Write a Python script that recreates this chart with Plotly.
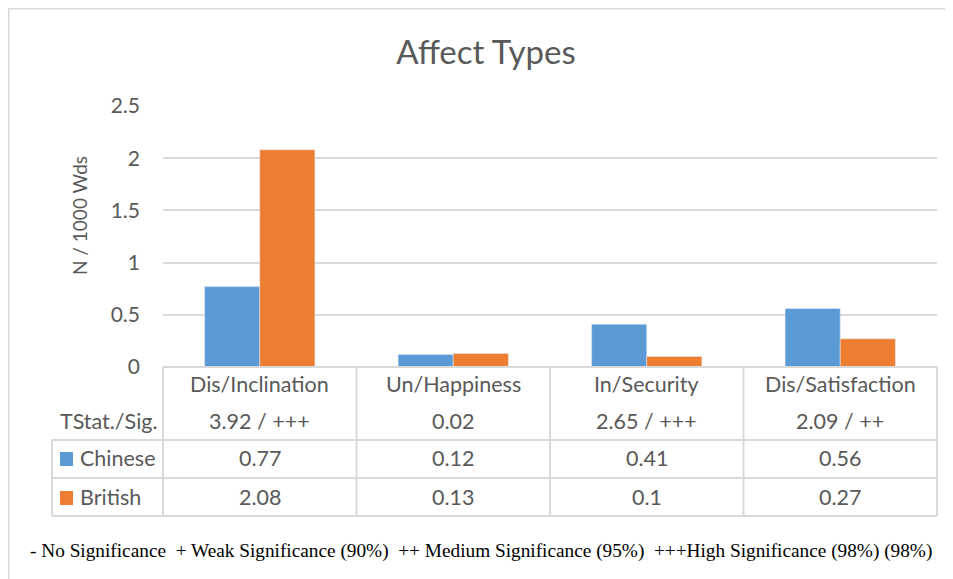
import plotly.graph_objects as go

# data
categories = ["Dis/Inclination", "Un/Happiness", "In/Security", "Dis/Satisfaction"]
tstat_sig = ["3.92 / +++", "0.02", "2.65 / +++", "2.09 / ++"]
chinese = [0.77, 0.12, 0.41, 0.56]
british = [2.08, 0.13, 0.1, 0.27]
series_names = ["Chinese", "British"]
footnote = ("- No Significance \u00a0+ Weak Significance (90%) \u00a0++ Medium Significance (95%) "
            "\u00a0+++High Significance (98%) (98%)")

BLUE = "#5B9BD5"
ORANGE = "#ED7D31"
GRID = "#D9D9D9"
TEXT = "#595959"
FONT = "Lato"

# the page body has an 8px margin, so the figure sits at (8, 8)
OFF = 8
W, H = 953 - OFF, 579 - OFF
# plot area in page pixels
L, R, T, B = 163, 937, 106, 367


def px(x):
    return (x - L) / (R - L)


def py(y):
    return (B - y) / (B - T)


fig = go.Figure()
fig.add_trace(go.Bar(x=categories, y=chinese, name=series_names[0], marker_color=BLUE))
fig.add_trace(go.Bar(x=categories, y=british, name=series_names[1], marker_color=ORANGE))

shapes = []


def line(x0, y0, x1, y1, color=GRID, width=2):
    shapes.append(dict(type="line", xref="paper", yref="paper",
                       x0=px(x0), y0=py(y0), x1=px(x1), y1=py(y1),
                       line=dict(color=color, width=width)))


# outer chart border
shapes.append(dict(type="rect", xref="paper", yref="paper",
                   x0=px(8.8), y0=py(8.8), x1=px(952), y1=py(600),
                   line=dict(color=GRID, width=1.5), layer="below"))

# data table grid
col_edges = [163, 356.5, 550, 743.5, 937]
for cx in col_edges:
    line(cx, 367, cx, 516)
line(52, 440, 937, 440)
line(52, 478, 937, 478)
line(52, 516, 937, 516)
line(52, 440, 52, 516)
line(163, 367, 937, 367)

# legend keys
for color, (y0, y1) in zip([BLUE, ORANGE], [(452, 466), (491, 505)]):
    shapes.append(dict(type="rect", xref="paper", yref="paper",
                       x0=px(60), y0=py(y0), x1=px(73), y1=py(y1),
                       fillcolor=color, line=dict(width=0)))

annotations = []
tfont = dict(family=FONT, size=21.5, color=TEXT)
rows = [(384, categories), (421, tstat_sig),
        (458, [str(v) for v in chinese]), (497, [str(v) for v in british])]
for ypix, labels in rows:
    for cat, lab in zip(categories, labels):
        annotations.append(dict(x=cat, xref="x", y=py(ypix), yref="paper",
                                text=lab, showarrow=False, font=tfont,
                                xanchor="center", yanchor="middle"))

annotations.append(dict(x=px(160), y=py(421), xref="paper", yref="paper",
                        text="TStat./Sig.", showarrow=False, font=tfont,
                        xanchor="right", yanchor="middle"))
for name, ypix in zip(series_names, [458, 497]):
    annotations.append(dict(x=px(78), y=py(ypix), xref="paper", yref="paper",
                            text=name, showarrow=False, font=tfont,
                            xanchor="left", yanchor="middle"))

annotations.append(dict(x=px(79), y=py(216), xref="paper", yref="paper",
                        text="N / 1000 Wds", textangle=-90, showarrow=False,
                        font=dict(family=FONT, size=19, color=TEXT),
                        xanchor="center", yanchor="middle"))

annotations.append(dict(x=px(481), y=py(551), xref="paper", yref="paper",
                        text=footnote, showarrow=False,
                        font=dict(family="Liberation Serif", size=19.3, color="#000000"),
                        xanchor="center", yanchor="middle"))

fig.update_layout(
    width=W, height=H,
    margin=dict(l=L - OFF, r=W - (R - OFF), t=T - OFF, b=H - (B - OFF)),
    paper_bgcolor="white", plot_bgcolor="white",
    title=dict(text="Affect Types", x=(486 - OFF) / W, xanchor="center",
               y=1 - (52 - OFF) / H, yanchor="middle",
               font=dict(family=FONT, size=33, color=TEXT)),
    barmode="group", bargap=0.43, bargroupgap=0,
    showlegend=False,
    xaxis=dict(showticklabels=False, showgrid=False, zeroline=False, showline=False,
               ticks="", range=[-0.5, 3.5]),
    yaxis=dict(range=[0, 2.5], dtick=0.5, showgrid=True, gridcolor=GRID, gridwidth=1.5,
               zeroline=False, showline=False, ticks="", ticklabelstandoff=22,
               tickfont=dict(family=FONT, size=21, color=TEXT)),
    shapes=shapes,
    annotations=annotations,
)

fig.write_html("out.html")
